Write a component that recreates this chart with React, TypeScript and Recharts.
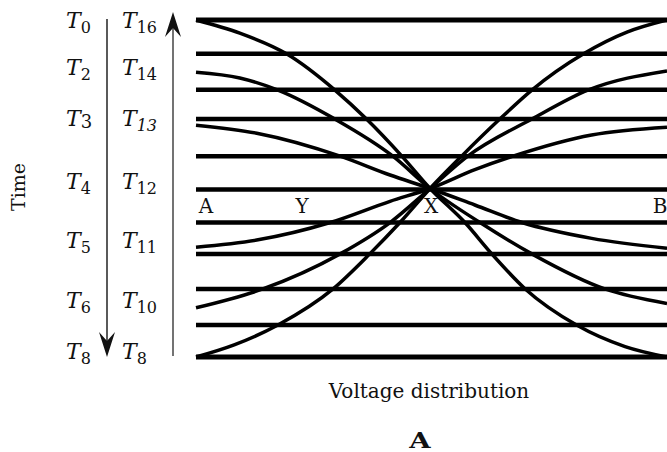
import { LineChart, Line, XAxis, YAxis, ReferenceLine } from 'recharts'

// levels of the horizontal lines (0 = bottom, 100 = top)
const levels = [100, 90, 79.3, 70.6, 59.6, 49.7, 39.9, 30.6, 20.2, 9.5, 0]

// curves through X, from A (x=0) to B (x=100)
const curve1 = [
  { x: 0, y: 100 }, { x: 9.3, y: 96.1 }, { x: 19.3, y: 89.9 }, { x: 29.5, y: 79.2 },
  { x: 36.2, y: 70.6 }, { x: 43.7, y: 59.6 }, { x: 49.7, y: 50 }, { x: 57.1, y: 39.9 },
  { x: 62.8, y: 30.6 }, { x: 69.9, y: 20.2 }, { x: 80.8, y: 9.5 }, { x: 91.1, y: 3.1 },
  { x: 100, y: 0 },
]
const curve2 = [
  { x: 0, y: 84.5 }, { x: 9.3, y: 82.8 }, { x: 17.4, y: 79.2 }, { x: 29.5, y: 70.6 },
  { x: 41.8, y: 59.6 }, { x: 49.7, y: 50 }, { x: 60.3, y: 39.9 }, { x: 71.3, y: 30.6 },
  { x: 86.8, y: 20.2 }, { x: 100, y: 15.9 },
]
const curve3 = [
  { x: 0, y: 68.8 }, { x: 12.9, y: 66.4 }, { x: 30.6, y: 59.6 }, { x: 41.2, y: 54 },
  { x: 49.7, y: 50 }, { x: 59.2, y: 45.1 }, { x: 69.2, y: 39.9 }, { x: 84, y: 35.2 },
  { x: 100, y: 32.3 },
]
const curve4 = [
  { x: 0, y: 32.6 }, { x: 12.9, y: 34.7 }, { x: 28.5, y: 39.9 }, { x: 41.2, y: 46.2 },
  { x: 49.7, y: 50 }, { x: 59.2, y: 55.6 }, { x: 67.3, y: 59.6 }, { x: 84, y: 65.9 },
  { x: 100, y: 68.2 },
]
const curve5 = [
  { x: 0, y: 14.6 }, { x: 14.2, y: 20.2 }, { x: 30.6, y: 30.6 }, { x: 41.2, y: 39.9 },
  { x: 49.7, y: 50 }, { x: 57.7, y: 59.6 }, { x: 71.3, y: 70.6 }, { x: 83.2, y: 79.2 },
  { x: 100, y: 84.9 },
]
const curve6 = [
  { x: 0, y: 0 }, { x: 8.1, y: 3.6 }, { x: 17.4, y: 9.5 }, { x: 29.1, y: 20.2 },
  { x: 36.9, y: 30.6 }, { x: 43.3, y: 39.9 }, { x: 49.7, y: 50 }, { x: 56.4, y: 59.6 },
  { x: 64.5, y: 70.6 }, { x: 71.3, y: 79.2 }, { x: 82.2, y: 89.9 }, { x: 91.5, y: 96.4 },
  { x: 100, y: 100 },
]
const curves = [curve1, curve2, curve3, curve4, curve5, curve6]

// time labels on the left, going down / going up
const timeTicks = [100, 86.2, 70.8, 52.1, 34.7, 16.9, 1.8]
const downSubs = ['0', '2', '3', '4', '5', '6', '8']
const upSubs = ['16', '14', '13', '12', '11', '10', '8']

const pointLabels = [
  { name: 'A', x: 206 },
  { name: 'Y', x: 302 },
  { name: 'X', x: 431 },
  { name: 'B', x: 660 },
]

const FONT = '"DejaVu Serif", serif'

function TimeTick(props: any) {
  const { y, index } = props
  const base = y + 8
  const plain = downSubs[index] === '3'
  return (
    <g fill="#111" fontFamily={FONT}>
      <text x={66} y={base} fontSize={22} fontStyle="italic">
        T
        <tspan fontSize={plain ? 18 : 16} fontStyle="normal" dy={plain ? 2 : 5}>
          {downSubs[index]}
        </tspan>
      </text>
      <text x={122} y={base} fontSize={22} fontStyle="italic">
        T
        <tspan
          fontSize={16}
          fontStyle={upSubs[index] === '13' ? 'italic' : 'normal'}
          dy={5}
        >
          {upSubs[index]}
        </tspan>
      </text>
    </g>
  )
}

export default function App() {
  return (
    <div
      style={{
        position: 'absolute',
        left: 0,
        top: 0,
        width: 667,
        height: 452,
        background: '#fff',
        fontFamily: FONT,
      }}
    >
      <LineChart
        width={667}
        height={452}
        margin={{ top: 20, right: 0, bottom: 95, left: 0 }}
      >
        <XAxis type="number" dataKey="x" domain={[0, 100]} hide />
        <YAxis
          type="number"
          domain={[0, 100]}
          width={196}
          ticks={timeTicks}
          interval={0}
          axisLine={false}
          tickLine={false}
          tick={(p: any) => <TimeTick {...p} />}
        />
        {levels.map((v, i) => (
          <ReferenceLine
            key={`h-${i}`}
            y={v}
            stroke="#000"
            strokeWidth={i === 0 || i === levels.length - 1 ? 5 : 4.5}
          />
        ))}
        {curves.map((c, i) => (
          <Line
            key={`c-${i}`}
            data={c}
            dataKey="y"
            type="monotone"
            stroke="#000"
            strokeWidth={3.5}
            dot={false}
            activeDot={false}
            isAnimationActive={false}
          />
        ))}
      </LineChart>

      <svg
        width={667}
        height={452}
        style={{ position: 'absolute', left: 0, top: 0, pointerEvents: 'none' }}
      >
        <text
          x={18}
          y={187}
          fontSize={19}
          fontFamily={FONT}
          textAnchor="middle"
          dominantBaseline="central"
          transform="rotate(-90 18 187)"
          fill="#111"
        >
          Time
        </text>

        {/* arrow going down */}
        <line x1={107} y1={19} x2={107} y2={345} stroke="#000" strokeWidth={1.3} />
        <path d="M107 357 L99 332 L107 341 L115 332 Z" fill="#111" />

        {/* arrow going up */}
        <line x1={173} y1={24} x2={173} y2={356} stroke="#444" strokeWidth={1.5} />
        <path d="M173 12 L165 37 L173 28 L181 37 Z" fill="#111" />

        {pointLabels.map((p) => (
          <text
            key={p.name}
            x={p.x}
            y={213}
            fontSize={20}
            fontFamily={FONT}
            textAnchor="middle"
            fill="#111"
          >
            {p.name}
          </text>
        ))}

        <text x={429} y={398} fontSize={20} fontFamily={FONT} textAnchor="middle" fill="#111">
          Voltage distribution
        </text>
        <text
          transform="translate(420 448) scale(1.25 1)"
          fontSize={22}
          fontWeight="bold"
          fontFamily={FONT}
          textAnchor="middle"
          fill="#111"
        >
          A
        </text>
      </svg>
    </div>
  )
}
